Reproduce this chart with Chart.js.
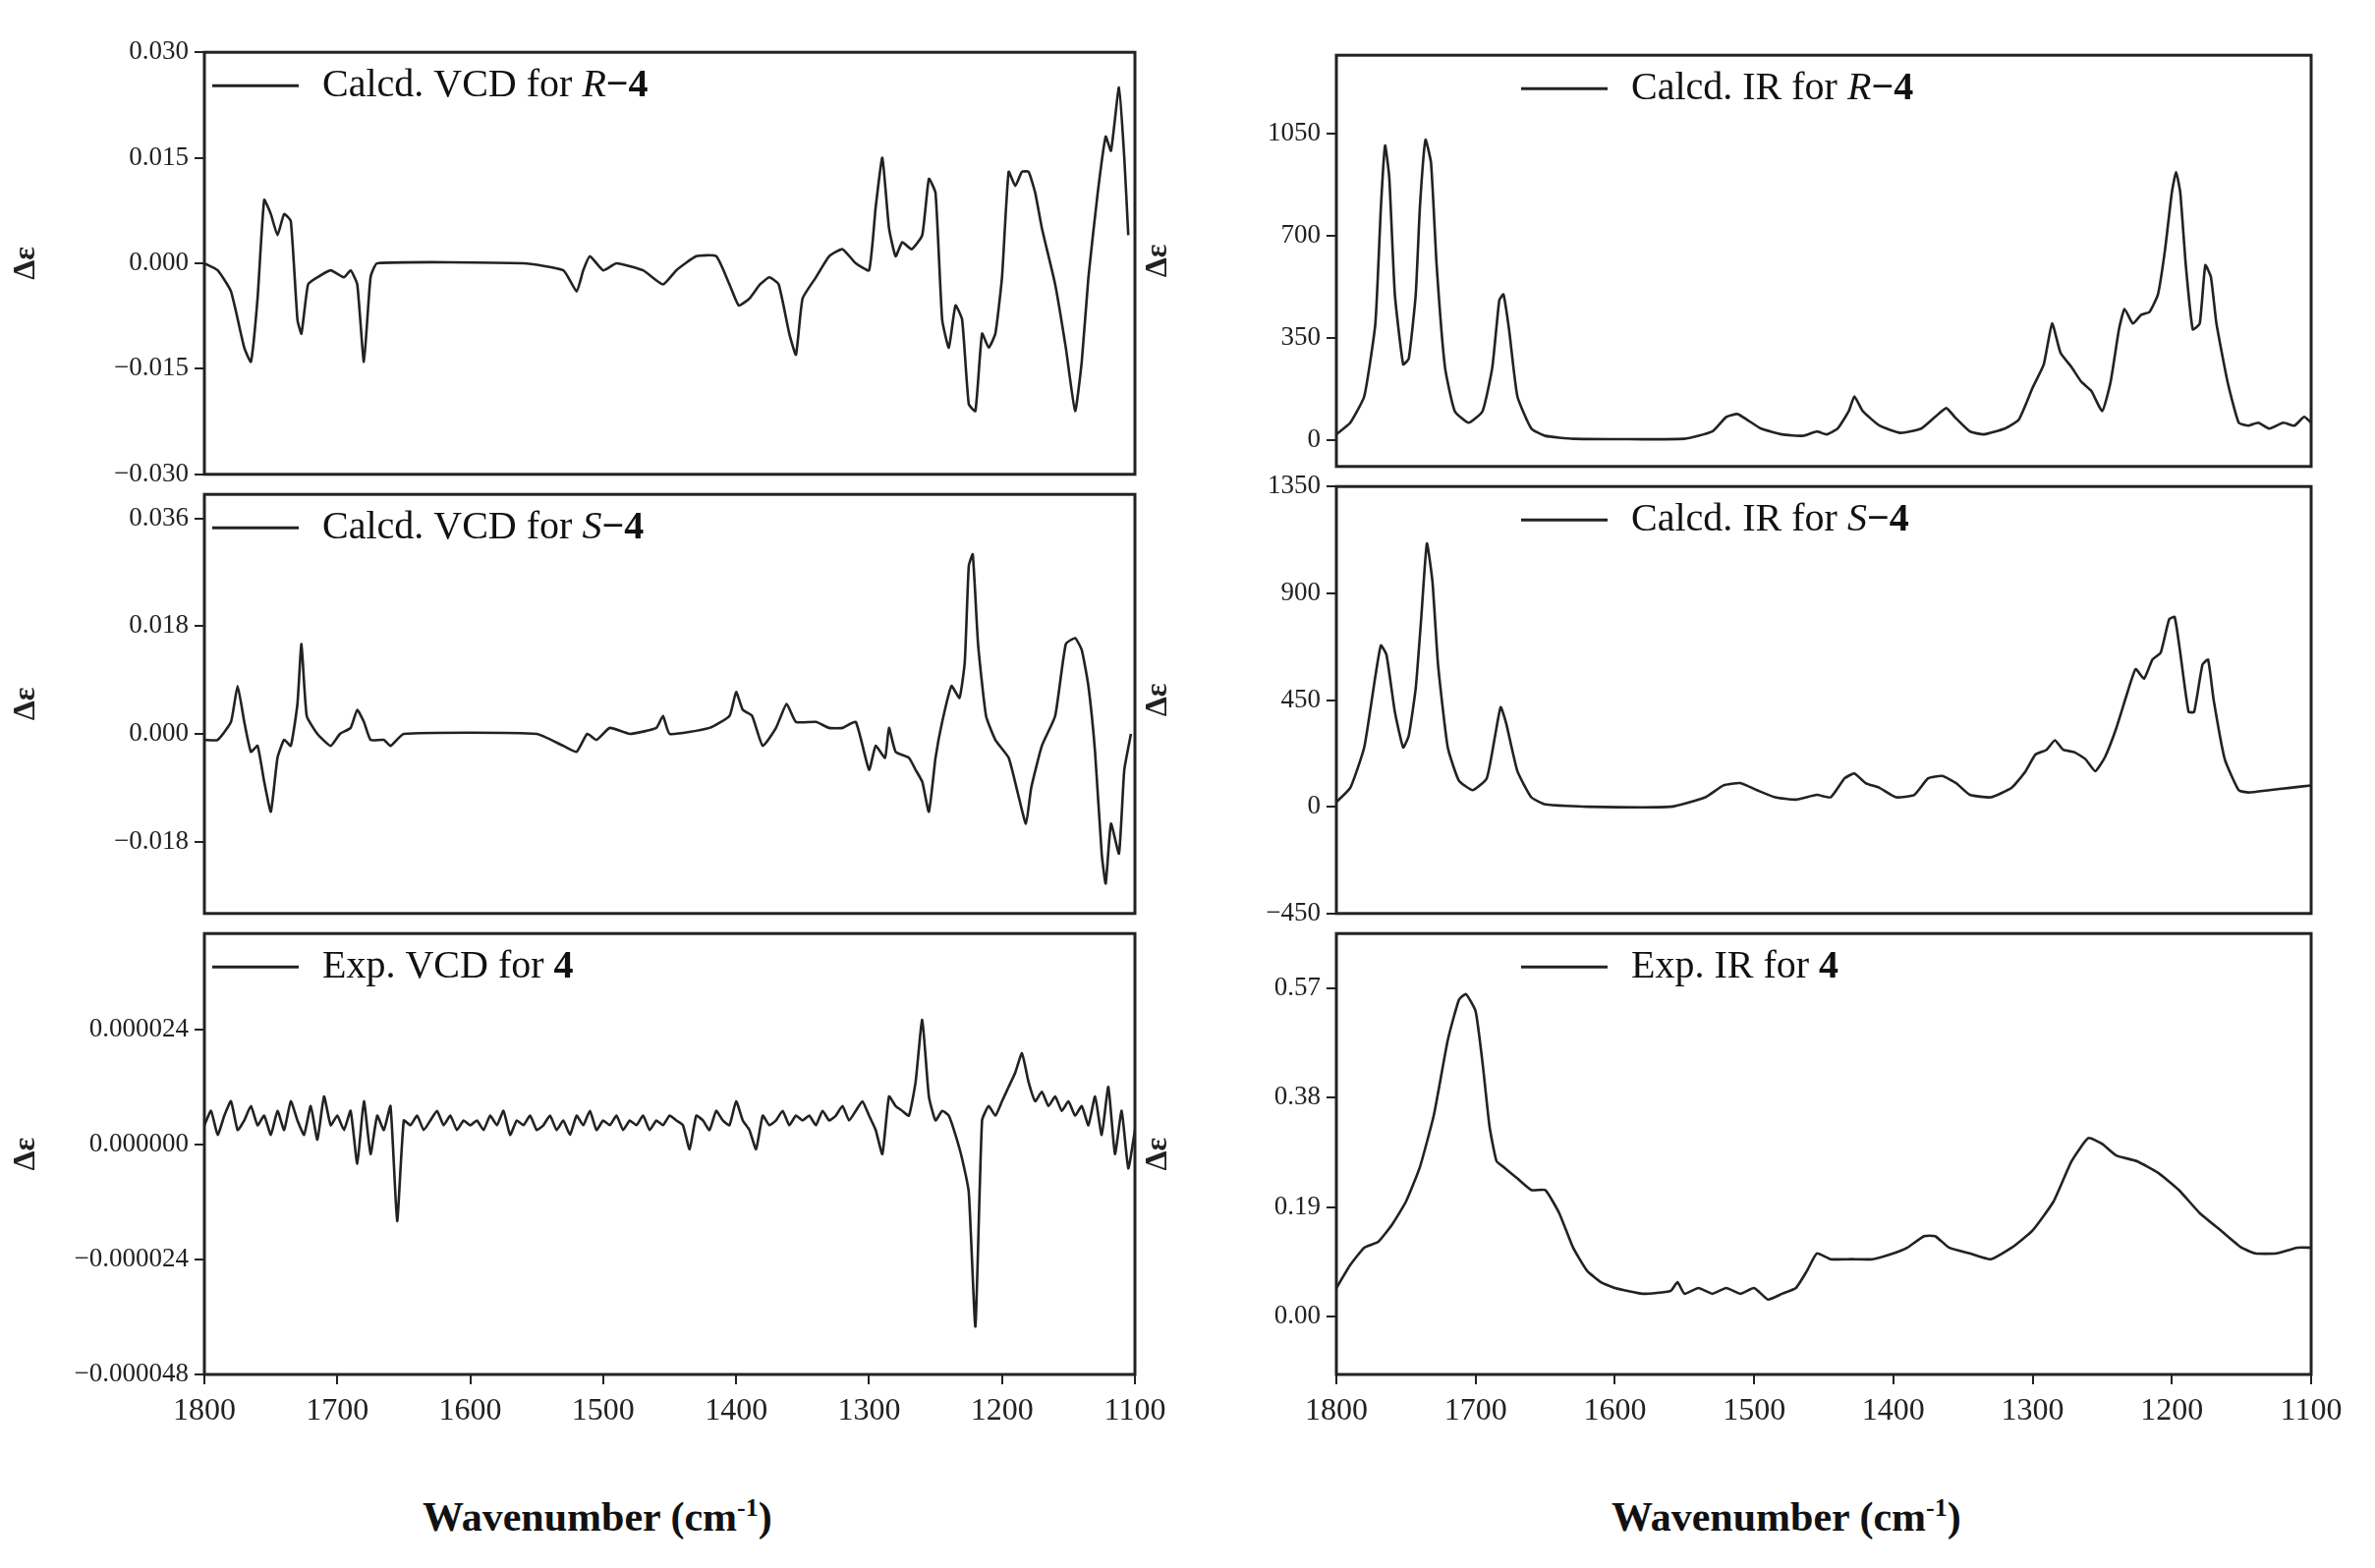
<!DOCTYPE html>
<html><head><meta charset="utf-8">
<script src="https://cdn.jsdelivr.net/npm/chart.js@4/dist/chart.umd.min.js"></script>
<style>
body{margin:0;background:#fff;width:2417px;height:1596px;position:relative;overflow:hidden}
.p{position:absolute}
#xt1,#xt2{position:absolute;font:bold 42px "Liberation Serif";color:#111;top:1520px}
</style></head><body>
<div id="xt1" style="left:430px">Wavenumber (cm<sup style="font-size:26px">-1</sup>)</div>
<div id="xt2" style="left:1640px">Wavenumber (cm<sup style="font-size:26px">-1</sup>)</div>
<script>
// calcd VCD R-4
const vcdRx = [1800,1790,1780,1770,1765,1760,1755,1750,1745,1740,1735,1730,1727,1722,1715,1705,1695,1690,1685,1680,1675,1670,1560,1530,1520,1515,1510,1500,1490,1470,1455,1445,1430,1415,1405,1398,1390,1382,1375,1368,1360,1355,1350,1340,1330,1320,1310,1300,1295,1290,1285,1280,1275,1268,1260,1255,1250,1245,1240,1235,1230,1225,1220,1215,1210,1205,1200,1195,1190,1185,1180,1175,1170,1160,1152,1145,1140,1135,1128,1122,1118,1112,1108,1105];
const vcdRy = [0,-0.001,-0.004,-0.012,-0.014,-0.005,0.009,0.007,0.004,0.007,0.006,-0.008,-0.01,-0.003,-0.002,-0.001,-0.002,-0.001,-0.003,-0.014,-0.002,0,0,-0.001,-0.004,-0.001,0.001,-0.001,0,-0.001,-0.003,-0.001,0.001,0.001,-0.003,-0.006,-0.005,-0.003,-0.002,-0.003,-0.01,-0.013,-0.005,-0.002,0.001,0.002,0,-0.001,0.008,0.015,0.005,0.001,0.003,0.002,0.004,0.012,0.01,-0.008,-0.012,-0.006,-0.008,-0.02,-0.021,-0.01,-0.012,-0.01,-0.002,0.013,0.011,0.013,0.013,0.01,0.005,-0.003,-0.012,-0.021,-0.014,-0.002,0.01,0.018,0.016,0.025,0.015,0.004];
// calcd VCD S-4
const vcdSx = [1800,1790,1780,1775,1770,1765,1760,1755,1750,1745,1740,1735,1730,1727,1723,1715,1705,1698,1690,1685,1680,1675,1665,1660,1650,1550,1530,1520,1512,1505,1495,1480,1460,1455,1450,1420,1405,1400,1395,1388,1380,1370,1362,1355,1340,1330,1320,1310,1300,1295,1288,1285,1280,1270,1265,1260,1255,1250,1245,1238,1232,1228,1225,1222,1218,1212,1205,1195,1188,1182,1178,1170,1160,1152,1145,1140,1135,1130,1125,1122,1118,1112,1108,1103];
const vcdSy = [-0.001,-0.001,0.002,0.008,0.002,-0.003,-0.002,-0.008,-0.013,-0.004,-0.001,-0.002,0.005,0.015,0.003,0,-0.002,0,0.001,0.004,0.002,-0.001,-0.001,-0.002,0,0,-0.002,-0.003,0,-0.001,0.001,0,0.001,0.003,0,0.001,0.003,0.007,0.004,0.003,-0.002,0.001,0.005,0.002,0.002,0.001,0.001,0.002,-0.006,-0.002,-0.004,0.001,-0.003,-0.004,-0.006,-0.008,-0.013,-0.004,0.002,0.008,0.006,0.012,0.028,0.03,0.015,0.003,-0.001,-0.004,-0.01,-0.015,-0.009,-0.002,0.003,0.015,0.016,0.014,0.008,-0.003,-0.02,-0.025,-0.015,-0.02,-0.006,0];
// exp VCD (values in 1e-6)
const vcdEx = [1800,1795,1790,1785,1780,1775,1770,1765,1760,1755,1750,1745,1740,1735,1730,1725,1720,1715,1710,1705,1700,1695,1690,1685,1680,1675,1670,1665,1660,1655,1650,1645,1640,1635,1630,1625,1620,1615,1610,1605,1600,1595,1590,1585,1580,1575,1570,1565,1560,1555,1550,1545,1540,1535,1530,1525,1520,1515,1510,1505,1500,1495,1490,1485,1480,1475,1470,1465,1460,1455,1450,1445,1440,1435,1430,1425,1420,1415,1410,1405,1400,1395,1390,1385,1380,1375,1370,1365,1360,1355,1350,1345,1340,1335,1330,1325,1320,1315,1310,1305,1300,1295,1290,1285,1280,1275,1270,1265,1260,1255,1250,1245,1240,1235,1230,1225,1220,1215,1210,1205,1200,1195,1190,1185,1180,1175,1170,1165,1160,1155,1150,1145,1140,1135,1130,1125,1120,1115,1110,1105,1100];
const vcdEy = [4,7,2,6,9,3,5,8,4,6,2, 7,3,9,5,2,8,1,10,4,6, 3,7,-4,9,-2,6,3,8,-16,5, 4,6,3,5,7,4,6,3,5,4, 5,3,6,4,7,2,5,4,6,3, 4,6,3,5,2,6,4,7,3,5, 4,6,3,5,4,6,3,5,4,6, 5,4,-1,6,5,3,7,5,4,9, 5,3,-1,6,4,5,7,4,6,5, 6,4,7,5,6,8,5,7,9,6, 3,-2,10,8,7,6,13,26,10,5, 7,6,2,-3,-10,-38,5,8,6,9, 12,15,19,13,9,11,8,10,7,9, 6,8,4,10,2,12,-2,7,-5,3];
// calcd IR R-4
const irRx = [1800,1790,1780,1772,1768,1765,1762,1758,1752,1748,1743,1740,1736,1732,1728,1722,1715,1705,1695,1688,1683,1680,1676,1670,1660,1650,1630,1550,1530,1520,1512,1505,1495,1480,1465,1455,1448,1440,1432,1428,1422,1410,1395,1380,1370,1362,1356,1345,1335,1320,1310,1300,1292,1286,1280,1272,1265,1258,1250,1244,1238,1234,1228,1222,1216,1210,1205,1200,1197,1194,1190,1185,1180,1176,1172,1168,1160,1152,1145,1138,1130,1120,1112,1105,1100];
const irRy = [20,60,150,400,800,1010,900,500,260,280,500,800,1030,950,600,250,100,60,100,250,480,500,380,150,40,15,5,5,30,80,90,70,40,20,15,30,20,40,100,150,100,50,25,40,80,110,80,30,20,40,70,180,260,400,300,250,200,170,100,200,380,450,400,430,440,500,650,850,920,850,600,380,400,600,560,400,200,60,50,60,40,60,50,80,60];
// calcd IR S-4
const irSx = [1800,1790,1780,1772,1768,1764,1758,1752,1748,1743,1739,1735,1731,1727,1720,1712,1702,1692,1686,1682,1678,1670,1660,1650,1620,1560,1535,1522,1510,1498,1485,1470,1455,1445,1435,1428,1420,1410,1398,1385,1375,1365,1355,1345,1330,1315,1305,1298,1290,1284,1278,1270,1262,1255,1248,1240,1232,1226,1220,1214,1208,1202,1198,1194,1188,1184,1178,1174,1170,1162,1152,1145,1130,1115,1100];
const irSy = [20,80,250,550,680,640,400,250,300,500,800,1110,950,600,250,110,70,120,300,420,350,150,40,10,0,0,40,90,100,70,40,30,50,40,120,140,100,80,40,50,120,130,100,50,40,80,150,220,240,280,240,230,200,150,210,330,480,580,540,620,650,790,800,650,400,400,600,620,450,200,70,60,70,80,90];
// exp IR
const irEx = [1800,1790,1780,1770,1760,1750,1740,1730,1720,1712,1707,1700,1695,1690,1685,1680,1670,1660,1650,1640,1630,1620,1610,1600,1580,1560,1555,1550,1540,1530,1520,1510,1500,1490,1480,1470,1462,1455,1445,1430,1415,1400,1390,1378,1370,1360,1345,1330,1315,1300,1285,1272,1260,1250,1240,1225,1210,1195,1180,1165,1150,1140,1125,1110,1100];
const irEy = [0.05,0.09,0.12,0.13,0.16,0.2,0.26,0.35,0.48,0.55,0.56,0.53,0.44,0.33,0.27,0.26,0.24,0.22,0.22,0.18,0.12,0.08,0.06,0.05,0.04,0.045,0.06,0.04,0.05,0.04,0.05,0.04,0.05,0.03,0.04,0.05,0.08,0.11,0.1,0.1,0.1,0.11,0.12,0.14,0.14,0.12,0.11,0.1,0.12,0.15,0.2,0.27,0.31,0.3,0.28,0.27,0.25,0.22,0.18,0.15,0.12,0.11,0.11,0.12,0.12];

const xTicks = [1800,1700,1600,1500,1400,1300,1200,1100];

const panels = [
	{x: vcdRx, y: vcdRy, min: -0.03, max: 0.03, ticks: [-0.03,-0.015,0,0.015,0.03], dec: 3, left: 208, top: 43, w: 947, h: 450, bottom: false, lab: ['Calcd. VCD for ', 'R', '\u22124']},
	{x: vcdSx, y: vcdSy, min: -0.03, max: 0.04, ticks: [-0.018,0,0.018,0.036], dec: 3, left: 208, top: 493, w: 947, h: 447, bottom: false, lab: ['Calcd. VCD for ', 'S', '\u22124']},
	{x: vcdEx, y: vcdEy.map(v => v * 1e-6), min: -0.000048, max: 0.000044, ticks: [-0.000048,-0.000024,0,0.000024], dec: 6, left: 208, top: 940, w: 947, h: 447, bottom: true, lab: ['Exp. VCD for ', '', '4']},
	{x: irRx, y: irRy, min: -90, max: 1320, ticks: [0,350,700,1050], dec: 0, left: 1360, top: 46, w: 992, h: 439, bottom: false, lab: ['Calcd. IR for ', 'R', '\u22124'], lx: 188},
	{x: irSx, y: irSy, min: -450, max: 1350, ticks: [-450,0,450,900,1350], dec: 0, left: 1360, top: 485, w: 992, h: 455, bottom: false, lab: ['Calcd. IR for ', 'S', '\u22124'], lx: 188},
	{x: irEx, y: irEy, min: -0.1, max: 0.665, ticks: [0,0.19,0.38,0.57], dec: 2, left: 1360, top: 940, w: 992, h: 447, bottom: true, lab: ['Exp. IR for ', '', '4'], lx: 188},
];

const YW = 200, XH = 80, PAD = 12, PADR = 50;

const boxAndLegend = {
	id: 'boxAndLegend',
	afterDraw(chart, args, o) {
		const {ctx, chartArea: a} = chart;
		ctx.save();
		ctx.strokeStyle = '#222';
		ctx.lineWidth = 3;
		ctx.strokeRect(a.left, a.top, a.right - a.left, a.bottom - a.top);
		const lx = o.lx, ly = a.top + 34;
		ctx.beginPath();
		ctx.moveTo(a.left + lx, ly);
		ctx.lineTo(a.left + lx + 88, ly);
		ctx.stroke();
		ctx.fillStyle = '#111';
		ctx.textBaseline = 'middle';
		let tx = a.left + lx + 112;
		ctx.font = '40px "Liberation Serif"';
		ctx.fillText(o.lab[0], tx, ly);
		tx += ctx.measureText(o.lab[0]).width;
		ctx.font = 'italic 40px "Liberation Serif"';
		ctx.fillText(o.lab[1], tx, ly);
		tx += ctx.measureText(o.lab[1]).width;
		ctx.font = 'bold 40px "Liberation Serif"';
		ctx.fillText(o.lab[2], tx, ly);
		ctx.restore();
	},
};

panels.forEach(p => {
	const cv = document.createElement('canvas');
	const cw = p.w + YW + PADR, ch = p.h + PAD * 2 + (p.bottom ? XH : 0);
	const div = document.createElement('div');
	div.className = 'p';
	div.style.cssText = `left:${p.left - YW}px;top:${p.top - PAD}px;width:${cw}px;height:${ch}px`;
	div.appendChild(cv);
	document.body.appendChild(div);
	new Chart(cv, {
		type: 'line',
		data: {
			datasets: [{
				data: p.x.map((x, i) => ({x, y: p.y[i]})),
				borderColor: '#222',
				borderWidth: 2.6,
				pointRadius: 0,
				tension: 0.15,
			}],
		},
		options: {
			responsive: true,
			maintainAspectRatio: false,
			animation: false,
			layout: {padding: {top: PAD, right: PADR, bottom: p.bottom ? 0 : PAD}},
			plugins: {legend: {display: false}, tooltip: {enabled: false}, boxAndLegend: {lab: p.lab, lx: p.lx || 8}},
			scales: {
				x: {
					type: 'linear', reverse: true, min: 1100, max: 1800,
					afterBuildTicks: s => { s.ticks = xTicks.map(v => ({value: v})); },
					afterFit: s => { s.height = p.bottom ? XH : 0; },
					border: {display: false},
					grid: {drawOnChartArea: false, tickLength: p.bottom ? 10 : 0, color: '#222', lineWidth: 2},
					ticks: {display: p.bottom, color: '#222', font: {family: 'Liberation Serif', size: 32}, padding: 8,
						callback: v => String(v)},
				},
				y: {
					min: p.min, max: p.max,
					afterBuildTicks: s => { s.ticks = p.ticks.map(v => ({value: v})); },
					afterFit: s => { s.width = YW; },
					border: {display: false},
					grid: {drawOnChartArea: false, tickLength: 10, color: '#222', lineWidth: 2},
					ticks: {color: '#222', font: {family: 'Liberation Serif', size: 27}, padding: 6,
						callback: v => v.toFixed(p.dec).replace('-', '\u2212')},
					title: {display: true, text: '\u0394\u03b5', color: '#222', font: {family: 'Liberation Serif', size: 32, weight: 'bold'}, padding: 0},
				},
			},
		},
		plugins: [boxAndLegend],
	});
});
</script>
</body></html>
